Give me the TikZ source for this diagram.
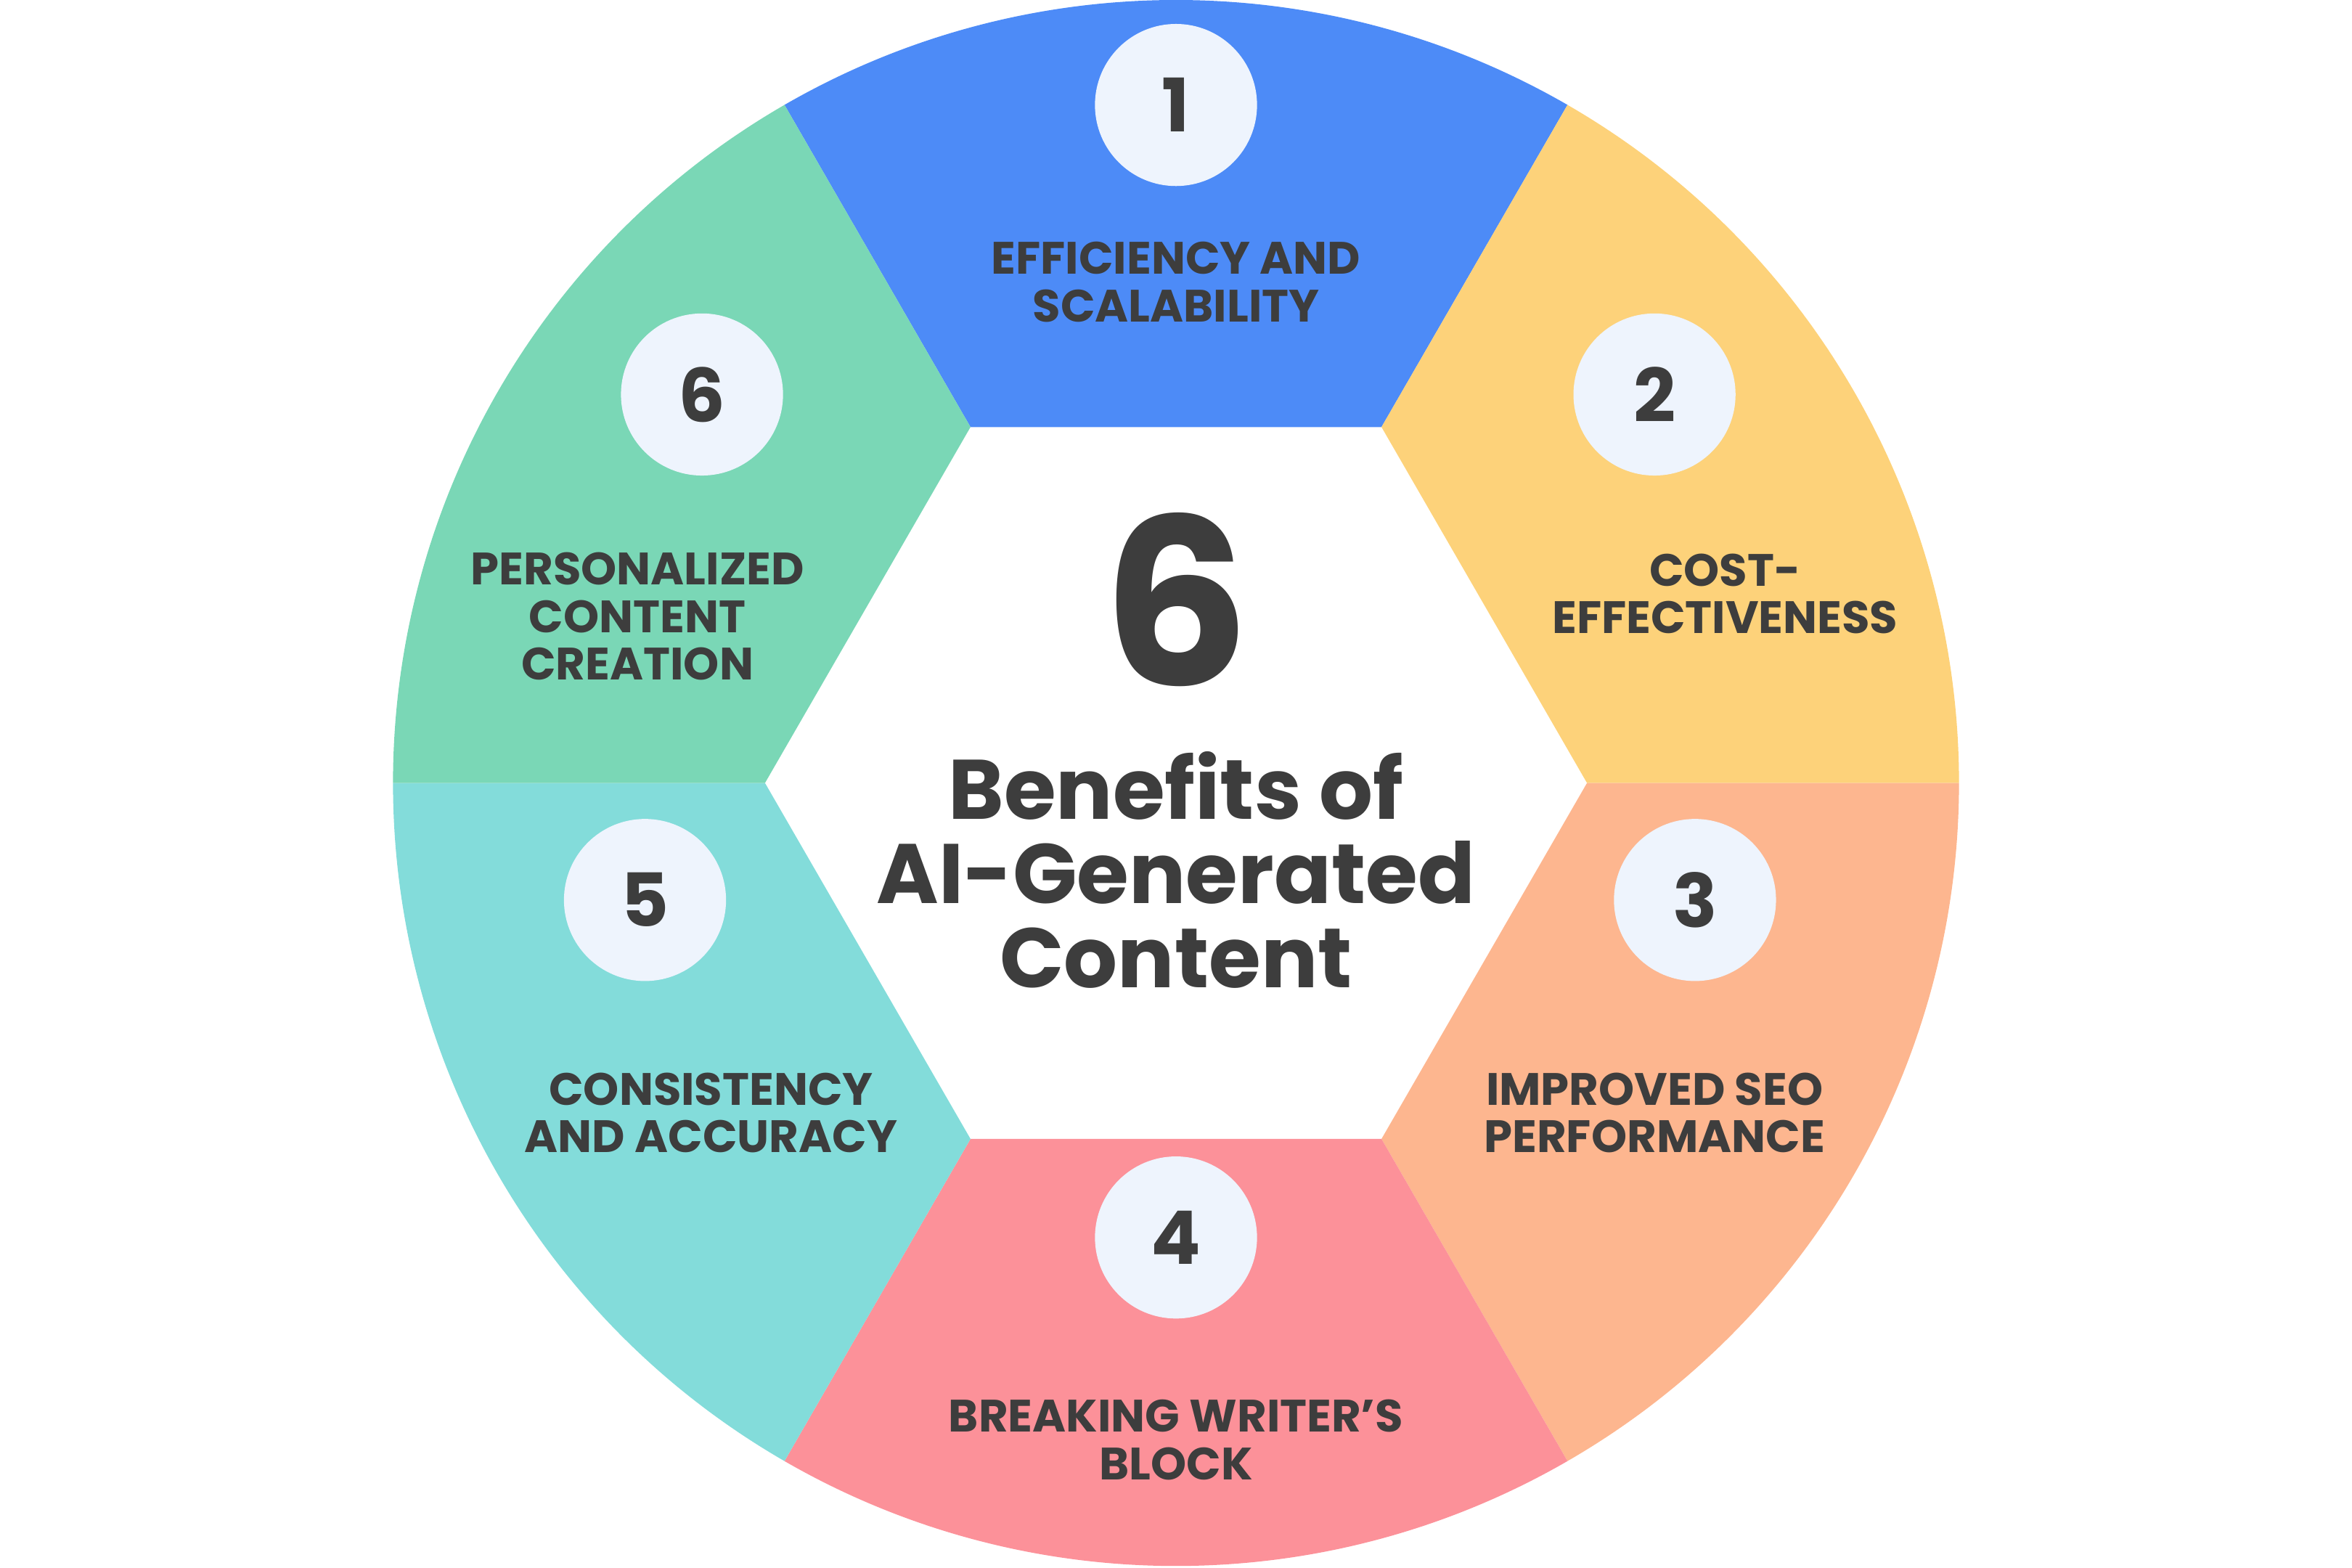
\documentclass[tikz,border=0pt]{standalone}
\usepackage{fontspec}
\setmainfont{Poppins}
\usetikzlibrary{calc}
\definecolor{segblue}{HTML}{4D8BF7}
\definecolor{segyellow}{HTML}{FDD27A}
\definecolor{segorange}{HTML}{FDB68F}
\definecolor{segpink}{HTML}{FC9199}
\definecolor{segteal}{HTML}{83DCDA}
\definecolor{seggreen}{HTML}{7AD7B6}
\definecolor{numfill}{HTML}{EEF4FD}
\definecolor{ink}{HTML}{3D3D3D}
\tikzset{
  numdot/.style={circle, fill=numfill, minimum size=1.08cm, inner sep=0pt, text=ink, font=\bfseries\fontsize{14}{14}\selectfont},
  seglabel/.style={align=center, text=ink, font=\bfseries\fontsize{8.6}{9}\selectfont, inner sep=0pt}
}
\begin{document}
\begin{tikzpicture}[x=0.01cm, y=0.01cm]
\useasboundingbox (0,0) rectangle (1568,1045);
\coordinate (c) at (784,523);
% sectors
\foreach \a/\col in {60/segblue, 0/segyellow, -60/segorange, -120/segpink, 180/segteal, 120/seggreen}
  \fill[\col] ($(c)+(\a:274)$) -- ($(c)+(\a:522)$) arc[start angle=\a, end angle=\a+60, radius=522] -- ($(c)+(\a+60:274)$) -- cycle;
% numbers
\node (n1)[numdot] at (784,975) {1};
\node (n2)[numdot] at (1103,782) {2};
\node (n3)[numdot] at (1130,445) {3};
\node (n4)[numdot] at (784,220) {4};
\node (n5)[numdot] at (430,445) {5};
\node (n6)[numdot] at (468,782) {6};
% labels
\node (l1)[seglabel] at (784,857) {EFFICIENCY AND\\SCALABILITY};
\node (l2)[seglabel] at (1150,649) {COST-\\EFFECTIVENESS};
\node (l3)[seglabel] at (1103,303) {IMPROVED SEO\\PERFORMANCE};
\node (l4)[seglabel] at (784,85) {BREAKING WRITER’S\\BLOCK};
\node (l5)[seglabel] at (474,303) {CONSISTENCY\\AND ACCURACY};
\node (l6)[seglabel] at (425,634) {PERSONALIZED\\CONTENT\\CREATION};
% centre
\node (big)[text=ink, font=\bfseries\fontsize{44}{44}\selectfont] at (784,645) {6};
\node (title)[text=ink, align=center, font=\bfseries\fontsize{16}{16}\selectfont] at (784,465) {Benefits of\\AI-Generated\\Content};
\end{tikzpicture}
\end{document}
